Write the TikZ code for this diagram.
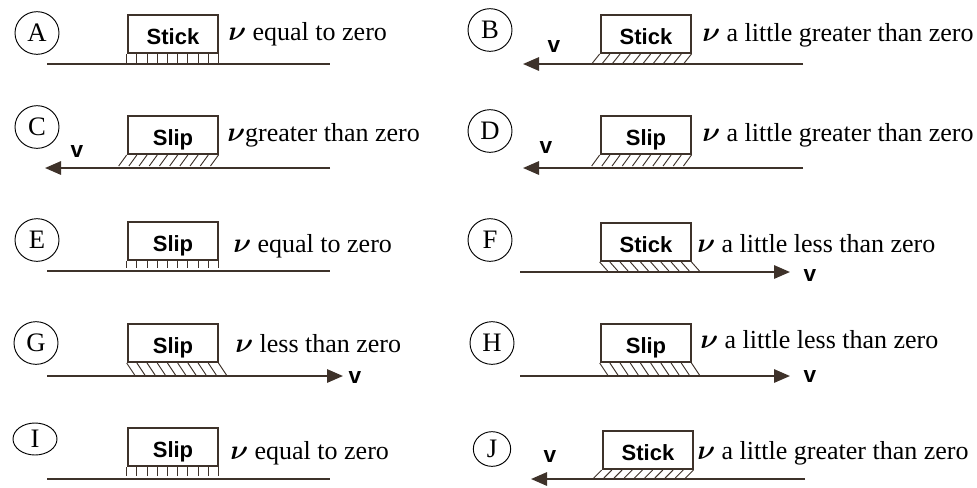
\documentclass[tikz,border=0pt]{standalone}
\usepackage{amsmath}
\usepackage{fontspec}
\setmainfont{Liberation Serif}
\setsansfont{Liberation Sans}
\usetikzlibrary{arrows.meta,positioning,shapes.geometric}
\definecolor{ink}{RGB}{62,50,42}
\newcommand{\nuv}{$\boldsymbol{\nu}$}

\begin{document}
\begin{tikzpicture}[x=0.75pt,y=-0.75pt,>={Triangle[length=12pt,width=10pt]},
  tag/.style={draw,ellipse,line width=0.7pt,minimum width=33pt,minimum height=32pt,inner sep=0pt,font=\fontsize{20}{20}\selectfont},
  block/.style={draw=ink,line width=1.5pt,minimum width=68pt,minimum height=28.5pt,inner sep=0pt,text height=16pt,text depth=0pt,font=\sffamily\bfseries\fontsize{16.5}{17}\selectfont},
  ground/.style={draw=ink,line width=1.5pt},
  hatch/.style={draw=ink,line width=0.7pt},
  speed/.style={inner sep=0pt,font=\sffamily\bfseries\fontsize{17}{17}\selectfont},
  cond/.style={anchor=base west,inner sep=0pt,font=\fontsize{19.5}{20}\selectfont}]
\useasboundingbox (0,0) rectangle (977,487);
% A
\node[tag] (tA) at (37,33) {A};
\node[block] (bA) at (173,34) {Stick};
\node[cond] (cA) at (228,40) {\nuv\ equal to zero};
\coordinate (gA1) at (47,64); \coordinate (gA2) at (330,64);
\draw[ground] (gA1) -- (gA2);
\foreach \i in {0,...,9} \draw[hatch] (bA.south west) ++(\i*10.2,0) -- ++(0,10);
% B
\node[tag] (tB) at (490,30) {B};
\node[block] (bB) at (646,34) {Stick};
\node[cond] (cB) at (702,41) {\nuv\ a little greater than zero};
\coordinate (gB1) at (523,64); \coordinate (gB2) at (803,64);
\draw[ground,->] (gB2) -- (gB1);
\node[speed] (vB) at (554,47) {v};
\foreach \i in {0,...,9} \draw[hatch] (bB.south west) ++(\i*10.2,0) -- ++(-8,10);
% C
\node[tag] (tC) at (37,127) {C};
\node[block] (bC) at (173,135) {Slip};
\node[cond] (cC) at (227,141) {\nuv greater than zero};
\coordinate (gC1) at (45,168); \coordinate (gC2) at (330,168);
\draw[ground,->] (gC2) -- (gC1);
\node[speed] (vC) at (77,152) {v};
\foreach \i in {0,...,9} \draw[hatch] (bC.south west) ++(\i*10.2,0) -- ++(-8,11);
% D
\node[tag] (tD) at (490,131) {D};
\node[block] (bD) at (646,135) {Slip};
\node[cond] (cD) at (702,141) {\nuv\ a little greater than zero};
\coordinate (gD1) at (523,168); \coordinate (gD2) at (803,168);
\draw[ground,->] (gD2) -- (gD1);
\node[speed] (vD) at (546,148) {v};
\foreach \i in {0,...,9} \draw[hatch] (bD.south west) ++(\i*10.2,0) -- ++(-8,11);
% E
\node[tag] (tE) at (37,240) {E};
\node[block] (bE) at (173,241) {Slip};
\node[cond] (cE) at (233,252) {\nuv\ equal to zero};
\coordinate (gE1) at (47,271); \coordinate (gE2) at (330,271);
\draw[ground] (gE1) -- (gE2);
\foreach \i in {0,...,9} \draw[hatch] (bE.south west) ++(\i*10.2,0) -- ++(0,7);
% F
\node[tag] (tF) at (490,240) {F};
\node[block] (bF) at (646,242) {Stick};
\node[cond] (cF) at (697,252) {\nuv\ a little less than zero};
\coordinate (gF1) at (520,272); \coordinate (gF2) at (790,272);
\draw[ground,->] (gF1) -- (gF2);
\node[speed] (vF) at (810,276) {v};
\foreach \i in {0,...,9} \draw[hatch] (bF.south west) ++(\i*10.2,0) -- ++(8,9);
% G
\node[tag] (tG) at (36,343) {G};
\node[block] (bG) at (173,343) {Slip};
\node[cond] (cG) at (235,352) {\nuv\ less than zero};
\coordinate (gG1) at (47,376); \coordinate (gG2) at (343,376);
\draw[ground,->] (gG1) -- (gG2);
\node[speed] (vG) at (355,378) {v};
\foreach \i in {0,...,9} \draw[hatch] (bG.south west) ++(\i*10.2,0) -- ++(8,12);
% H
\node[tag] (tH) at (492,343) {H};
\node[block] (bH) at (646,343) {Slip};
\node[cond] (cH) at (700,348) {\nuv\ a little less than zero};
\coordinate (gH1) at (520,376); \coordinate (gH2) at (790,376);
\draw[ground,->] (gH1) -- (gH2);
\node[speed] (vH) at (810,376) {v};
\foreach \i in {0,...,9} \draw[hatch] (bH.south west) ++(\i*10.2,0) -- ++(8,12);
% I
\node[tag,minimum height=24pt] (tI) at (35,439) {I};
\node[block] (bI) at (173,447) {Slip};
\node[cond] (cI) at (230,459) {\nuv\ equal to zero};
\coordinate (gI1) at (47,479); \coordinate (gI2) at (330,479);
\draw[ground] (gI1) -- (gI2);
\foreach \i in {0,...,9} \draw[hatch] (bI.south west) ++(\i*10.2,0) -- ++(0,9);
% J
\node[tag,minimum width=28pt,minimum height=26pt] (tJ) at (492,449) {J};
\node[block] (bJ) at (648,450) {Stick};
\node[cond] (cJ) at (697,459) {\nuv\ a little greater than zero};
\coordinate (gJ1) at (531,479); \coordinate (gJ2) at (805,479);
\draw[ground,->] (gJ2) -- (gJ1);
\node[speed] (vJ) at (550,456) {v};
\foreach \i in {0,...,9} \draw[hatch] (bJ.south west) ++(\i*10.2,0) -- ++(-8,8);
\end{tikzpicture}
\end{document}
